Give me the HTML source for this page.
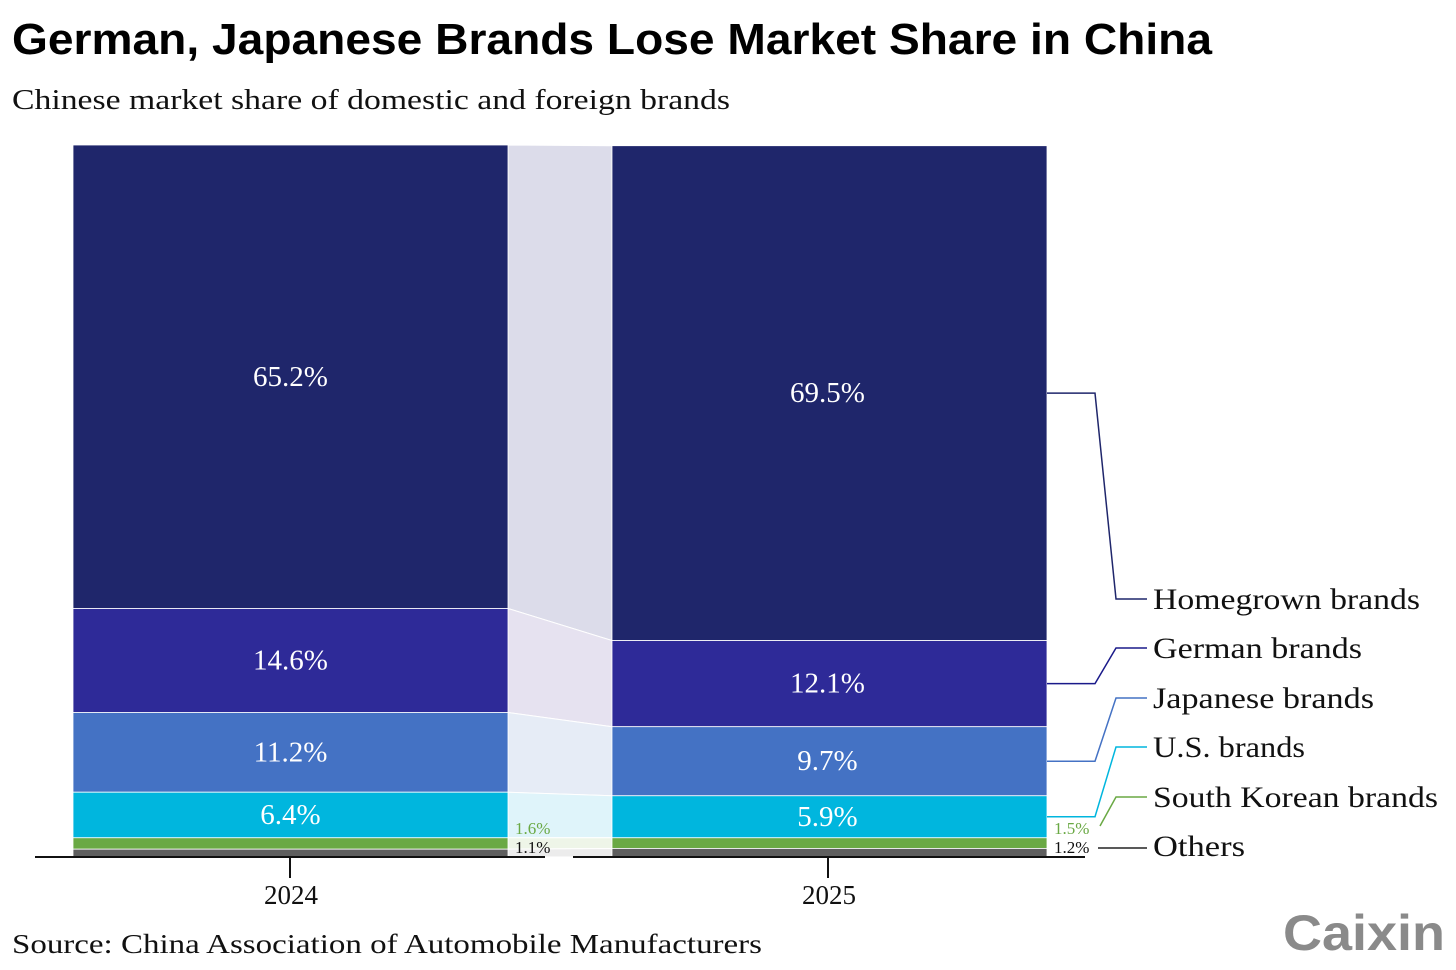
<!DOCTYPE html>
<html><head><meta charset="utf-8"><style>
body{margin:0;background:#fff;}
svg{display:block;}
</style></head><body>
<svg id="chart" width="1456" height="970" xmlns="http://www.w3.org/2000/svg">
<text x="12" y="54" font-family="Liberation Sans, sans-serif" font-weight="bold" font-size="44" textLength="1200" lengthAdjust="spacingAndGlyphs" fill="#000">German, Japanese Brands Lose Market Share in China</text>
<text x="12" y="109" font-family="Liberation Serif, serif" font-size="29" textLength="718" lengthAdjust="spacingAndGlyphs" fill="#111">Chinese market share of domestic and foreign brands</text>
<text x="12" y="953" font-family="Liberation Serif, serif" font-size="27" textLength="750" lengthAdjust="spacingAndGlyphs" fill="#111">Source: China Association of Automobile Manufacturers</text>
<text x="1283" y="950" font-family="Liberation Sans, sans-serif" font-weight="bold" font-size="50" textLength="162" lengthAdjust="spacingAndGlyphs" fill="#8a8a8a">Caixin</text>
<g id="plot"></g>
</svg>
<script>
const years = ["2024", "2025"];
const categories = ["Homegrown brands", "German brands", "Japanese brands", "U.S. brands", "South Korean brands", "Others"];
const values2024 = [65.2, 14.6, 11.2, 6.4, 1.6, 1.1];
const values2025 = [69.5, 12.1, 9.7, 5.9, 1.5, 1.2];
const labels2024 = ["65.2%", "14.6%", "11.2%", "6.4%", "1.6%", "1.1%"];
const labels2025 = ["69.5%", "12.1%", "9.7%", "5.9%", "1.5%", "1.2%"];

const colors = ["#1f266b", "#2e2a98", "#4472c4", "#00b6de", "#6aa944", "#5f5f5f"];
const lightColors = ["#dcdcea", "#e6e2f0", "#e6ecf6", "#dff4fa", "#eef5e8", "#ececec"];
const legendWidths = [267, 209, 221, 152, 285, 92];
const NS = "http://www.w3.org/2000/svg";
const plot = document.getElementById("plot");
const baseY = 857, pxPerPct = 7.12;
const yScale = v => baseY - v * pxPerPct;
const barX = [73, 612], barW = 435;
function el(tag, attrs, parent) {
  const e = document.createElementNS(NS, tag);
  for (const k in attrs) e.setAttribute(k, attrs[k]);
  (parent || plot).appendChild(e);
  return e;
}
const series = [values2024, values2025];
const labs = [labels2024, labels2025];
function stacks(vals) {
  const out = [];
  let cum = 0;
  for (let i = vals.length - 1; i >= 0; i--) {
    const bottom = cum; cum += vals[i];
    out[i] = {bottom: bottom, top: cum};
  }
  return out;
}
const st = series.map(stacks);
for (let i = 0; i < categories.length; i++) {
  const a = st[0][i], b = st[1][i];
  const top0 = Math.max(yScale(a.top), yScale(100)), top1 = Math.max(yScale(b.top), yScale(100));
  const p = el("polygon", {points: `${barX[0]+barW},${top0} ${barX[1]},${top1} ${barX[1]},${yScale(b.bottom)} ${barX[0]+barW},${yScale(a.bottom)}`, fill: lightColors[i], stroke: "#fff", "stroke-width": 1});
  
  
}
for (let y = 0; y < 2; y++) {
  for (let i = 0; i < categories.length; i++) {
    const s = st[y][i];
    const top = Math.max(yScale(s.top), yScale(100));
    const r = el("rect", {x: barX[y], y: top, width: barW, height: yScale(s.bottom) - top, fill: colors[i], stroke: "#fff", "stroke-width": 0.8});
    
    
    const mid = (top + yScale(s.bottom)) / 2;
    if (i < 4) {
      const t = el("text", {x: barX[y] + barW / 2 + (y ? -2 : 0), y: mid + 9, "text-anchor": "middle", "font-family": "Liberation Serif, serif", "font-size": 29, fill: "#fff"});
      t.textContent = labs[y][i];
      
      
    } else {
      const t = el("text", {x: barX[y] + barW + 7, y: i === 4 ? 834 : 853, "font-family": "Liberation Serif, serif", "font-size": 17, fill: i === 4 ? "#6aa944" : "#111"});
      t.textContent = labs[y][i];
      
      
    }
  }
}
[[35, 545], [573, 1085]].forEach(([a, b]) => {
  const l = el("line", {x1: a, x2: b, y1: baseY, y2: baseY, stroke: "#111", "stroke-width": 2});
  
  
});
years.forEach((yr, j) => {
  const cx = barX[j] + barW / 2 - (j ? 1 : 0) - 0.5;
  const tk = el("line", {x1: cx, x2: cx, y1: baseY, y2: 878, stroke: "#111", "stroke-width": 2});
  
  
  const t = el("text", {x: cx + 1, y: 904, "text-anchor": "middle", "font-family": "Liberation Serif, serif", "font-size": 27, fill: "#111"});
  t.textContent = yr;
  
  
});
const legendY = [599, 648, 698, 747, 797, 846];
const lineColors = ["#1f266b", "#1a1a8a", "#4472c4", "#00b6de", "#6aa944", "#222"];
for (let i = 0; i < categories.length; i++) {
  const s = st[1][i];
  const top = Math.max(yScale(s.top), yScale(100));
  const mid = (top + yScale(s.bottom)) / 2;
  let pts;
  if (i === 4) pts = `1100,826 1116,797 1147,797`;
  else if (i === 5) pts = `1098,848 1147,848`;
  else pts = `1047,${mid} 1095,${mid} 1116,${legendY[i]} 1147,${legendY[i]}`;
  const pl = el("polyline", {points: pts, fill: "none", stroke: lineColors[i], "stroke-width": 1.5});
  
  
  const t = el("text", {x: 1153, y: legendY[i] + 10, "font-family": "Liberation Serif, serif", "font-size": 30, textLength: legendWidths[i], lengthAdjust: "spacingAndGlyphs", fill: "#111"});
  t.textContent = categories[i];
  
  
}
</script>
</body></html>
